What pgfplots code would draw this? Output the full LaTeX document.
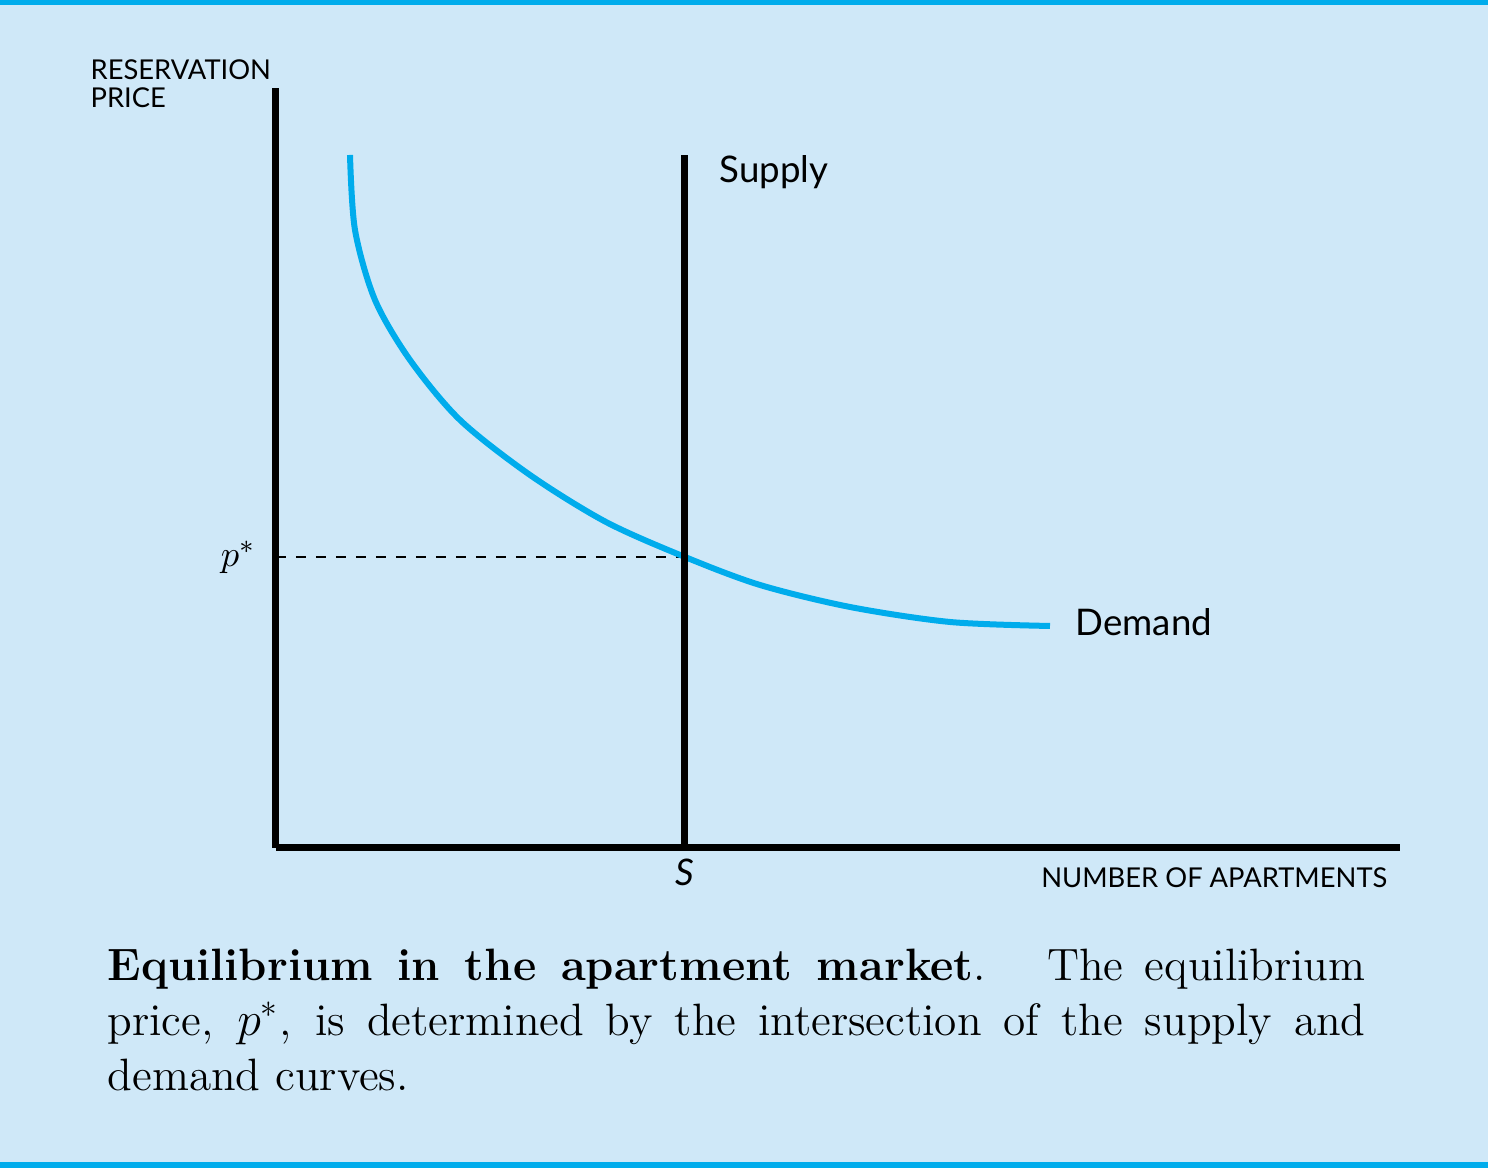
\documentclass[border=0pt]{standalone}
\usepackage{pgfplots}
\pgfplotsset{compat=1.18}
\usepackage{fontspec}
\newfontfamily\lab{Lato}
\definecolor{bg}{RGB}{207,232,248}
\definecolor{cy}{RGB}{0,172,236}
\begin{document}
\begin{tikzpicture}[x=0.3pt,y=0.3pt]
\fill[bg] (0,0) rectangle (1488,-1168);
\fill[cy] (0,0) rectangle (1488,-5);
\fill[cy] (0,-1162) rectangle (1488,-1168);
\begin{axis}[at={(82.8pt,-254.4pt)}, anchor=origin, x=0.3pt, y=0.3pt,
  xmin=0, xmax=1124, ymin=0, ymax=760, axis lines=left,
  axis line style={line width=2.1pt,-}, ticks=none, clip=false]
\addplot[black, dashed, thin] coordinates {(0,291) (409,291)};
\addplot[cy, line width=1.8pt, smooth] coordinates {(74,693) (79,618) (99,548) (134,488) (184,428) (254,373) (330,326) (409,291) (484,263) (574,241) (674,226) (774,222)};
\addplot[black, line width=2.1pt] coordinates {(409,0) (409,693)};
\node[anchor=base west, font=\lab\fontsize{11}{13}\selectfont] at (axis cs:432,665) {Supply};
\node[anchor=base west, font=\lab\fontsize{11}{13}\selectfont] at (axis cs:788,212) {Demand};
\node[anchor=base, font=\lab\fontsize{11}{13}\selectfont\itshape] at (axis cs:-38,281) {$p^*$};
\node[anchor=base, font=\lab\fontsize{11}{13}\selectfont\itshape] at (axis cs:409,-38) {S};
\node[anchor=base east, font=\lab\fontsize{8.2}{9.5}\selectfont] at (axis cs:1123,-40) {NUMBER OF APARTMENTS};
\node[anchor=base west, font=\lab\fontsize{8.2}{8.5}\selectfont, align=left, inner sep=0pt] at (axis cs:-186,740) {RESERVATION\\PRICE};
\end{axis}
\node[anchor=north west, inner sep=0pt, text width=377.4pt, align=justify, font=\fontsize{13.6}{16.5}\selectfont] at (107,-948)
{\textbf{Equilibrium in the apartment market}. \ The equilibrium price, $p^*$, is determined by the intersection of the supply and demand curves.};
\end{tikzpicture}
\end{document}
